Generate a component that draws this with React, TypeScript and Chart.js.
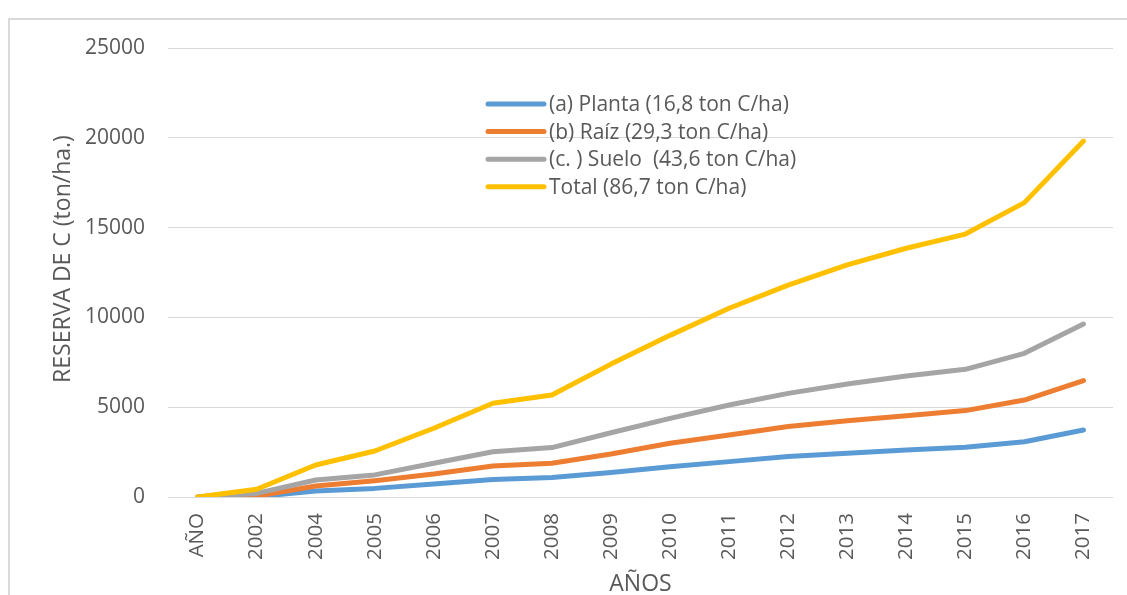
import React, { useEffect, useRef } from 'react';
import { Chart, registerables } from 'chart.js';

Chart.register(...registerables);

const categories = ['AÑO', '2002', '2004', '2005', '2006', '2007', '2008', '2009', '2010', '2011', '2012', '2013', '2014', '2015', '2016', '2017'];
const planta = [0, 20, 330, 480, 720, 980, 1080, 1360, 1690, 1970, 2250, 2430, 2620, 2770, 3080, 3730];
const raiz = [0, 50, 610, 910, 1280, 1730, 1880, 2390, 2990, 3450, 3920, 4250, 4530, 4810, 5400, 6480];
const suelo = [0, 200, 950, 1230, 1880, 2520, 2750, 3580, 4380, 5120, 5770, 6290, 6740, 7110, 8000, 9630];
const total = [0, 430, 1780, 2560, 3830, 5220, 5680, 7400, 9000, 10510, 11800, 12920, 13850, 14640, 16390, 19820];

const seriesLabels = ['(a) Planta (16,8 ton C/ha)', '(b) Raíz (29,3 ton C/ha)', '(c. ) Suelo  (43,6 ton C/ha)', 'Total (86,7 ton C/ha)'];
const seriesColors = ['#5B9BD5', '#ED7D31', '#A5A5A5', '#FFC000'];

const yTitle = 'RESERVA DE C (ton/ha.)';
const xTitle = 'AÑOS';
const yMax = 25000;
const yStep = 5000;

const FONT = '"Open Sans", sans-serif';
const TEXT = '#595959';

const insideLegend = {
  id: 'insideLegend',
  afterDraw(chart: any) {
    const o = chart.options.plugins.insideLegend;
    const ctx = chart.ctx;
    ctx.save();
    chart.data.datasets.forEach((ds: any, i: number) => {
      const y = o.y + i * o.rowHeight;
      ctx.strokeStyle = ds.borderColor;
      ctx.lineWidth = o.lineWidth;
      ctx.lineCap = 'round';
      ctx.beginPath();
      ctx.moveTo(o.x, y);
      ctx.lineTo(o.x + o.lineLength, y);
      ctx.stroke();
      ctx.fillStyle = TEXT;
      ctx.font = `${o.fontSize}px ${FONT}`;
      ctx.textAlign = 'left';
      ctx.textBaseline = 'middle';
      ctx.fillText(ds.label, o.x + o.lineLength + o.gap, y + 1);
    });
    ctx.restore();
  },
};

const axisTitles = {
  id: 'axisTitles',
  afterDraw(chart: any) {
    const o = chart.options.plugins.axisTitles;
    const ctx = chart.ctx;
    ctx.save();
    ctx.fillStyle = TEXT;
    ctx.font = `${o.fontSize}px ${FONT}`;
    ctx.textAlign = 'center';
    ctx.textBaseline = 'middle';
    ctx.translate(o.yX, o.yY);
    ctx.rotate(-Math.PI / 2);
    ctx.fillText(o.yText, 0, 0);
    ctx.setTransform(1, 0, 0, 1, 0, 0);
    ctx.textBaseline = 'alphabetic';
    ctx.fillText(o.xText, (chart.chartArea.left + chart.chartArea.right) / 2, o.xBaseline);
    ctx.restore();
  },
};

export default function App() {
  const ref = useRef<HTMLCanvasElement>(null);

  useEffect(() => {
    if (!ref.current) return;
    const data = [planta, raiz, suelo, total];
    const chart = new Chart(ref.current, {
      type: 'line',
      data: {
        labels: categories,
        datasets: data.map((d, i) => ({
          label: seriesLabels[i],
          data: d,
          borderColor: seriesColors[i],
          backgroundColor: seriesColors[i],
          borderWidth: 5,
          pointRadius: 0,
          pointHoverRadius: 0,
          tension: 0,
          borderCapStyle: 'round',
          borderJoinStyle: 'round',
          fill: false,
          order: 4 - i,
        })),
      },
      options: {
        responsive: false,
        animation: false,
        devicePixelRatio: 1,
        layout: { padding: { top: 28, right: 14, left: 0, bottom: 0 } },
        plugins: {
          legend: { display: false },
          tooltip: { enabled: false },
          insideLegend: { x: 478, y: 84, rowHeight: 27.6, lineLength: 56, lineWidth: 5, gap: 5, fontSize: 21 },
          axisTitles: { yText: yTitle, xText: xTitle, fontSize: 23, yX: 53, yY: 239, xBaseline: 571 },
        } as any,
        scales: {
          x: {
            offset: true,
            grid: { display: false },
            border: { display: false },
            ticks: {
              minRotation: 90,
              maxRotation: 90,
              autoSkip: false,
              padding: 8,
              color: TEXT,
              font: { family: FONT, size: 20.5 },
            },
            afterFit(scale: any) {
              scale.height = 98;
            },
          },
          y: {
            min: 0,
            max: yMax,
            grid: { color: '#D9D9D9', lineWidth: 1, drawTicks: false },
            border: { display: false },
            ticks: {
              stepSize: yStep,
              padding: 23,
              color: TEXT,
              font: { family: FONT, size: 21 },
              callback: (v: any) => String(v),
            },
            afterFit(scale: any) {
              scale.width = 158;
              scale.paddingTop = 0;
              scale.paddingBottom = 0;
            },
          },
        },
      },
      plugins: [insideLegend, axisTitles],
    });
    return () => chart.destroy();
  }, []);

  return (
    <div style={{ position: 'fixed', left: 0, top: 0, width: 1127, height: 595, overflow: 'hidden', background: '#fff' }}>
      <div
        style={{
          position: 'absolute',
          left: 8,
          top: 18,
          width: 1119,
          height: 577,
          borderTop: '2px solid #D9D9D9',
          borderLeft: '2px solid #D9D9D9',
          boxSizing: 'border-box',
        }}
      >
        <canvas ref={ref} width={1117} height={575} style={{ display: 'block', width: 1117, height: 575 }} />
      </div>
    </div>
  );
}
